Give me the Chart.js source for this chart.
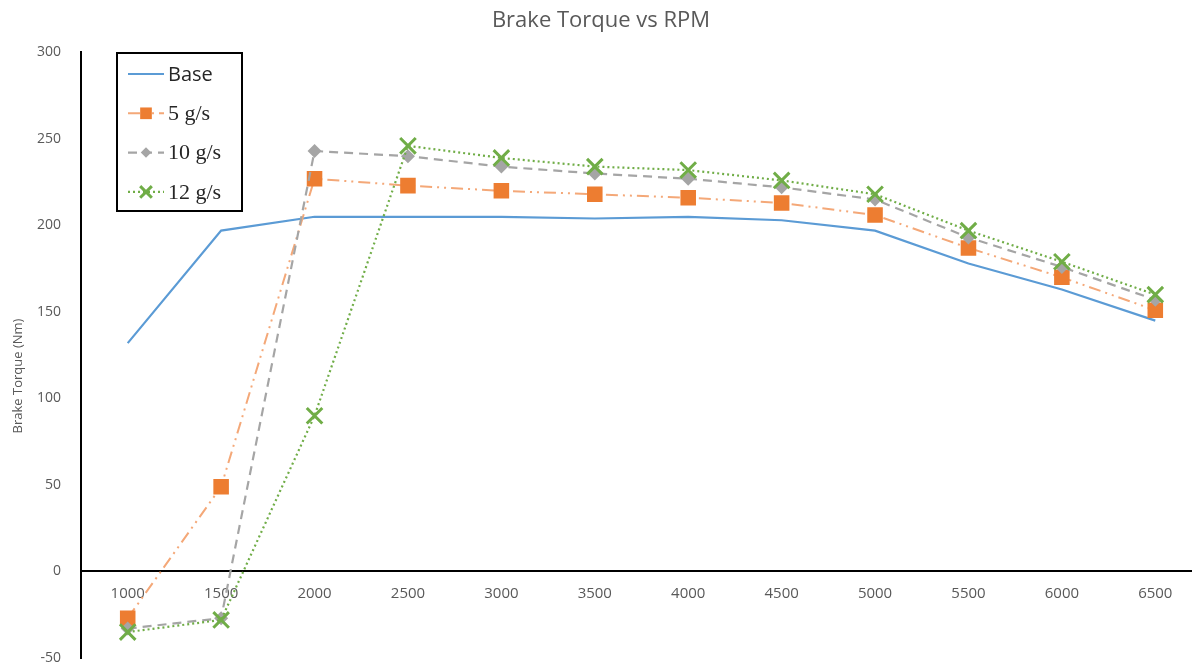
<!DOCTYPE html>
<html lang="en">
<head>
  <meta charset="UTF-8" />
  <title>Brake Torque vs RPM</title>
  <script src="https://cdn.jsdelivr.net/npm/chart.js"></script>
  <style>
    html, body { margin: 0; padding: 0; background: #fff; overflow: hidden; }
    #wrap { width: 1202px; height: 666px; }
  </style>
</head>
<body>
  <div id="wrap"><canvas id="grafico" width="1202" height="666"></canvas></div>
  <script>
    const rpm = ["1000", "1500", "2000", "2500", "3000", "3500", "4000", "4500", "5000", "5500", "6000", "6500"];
    const base = [132, 197, 205, 205, 205, 204, 205, 203, 197, 178, 163, 145];
    const flow5 = [-27, 49, 227, 223, 220, 218, 216, 213, 206, 187, 170, 151];
    const flow10 = [-33, -27, 243, 240, 234, 230, 227, 222, 215, 193, 176, 157];
    const flow12 = [-35, -28, 90, 246, 239, 234, 232, 226, 218, 197, 179, 160];
    const yTicks = [-50, 0, 50, 100, 150, 200, 250, 300];

    const gris = "#595959";
    const fuente = "'Open Sans', sans-serif";

    // legend box inside the plot (top-left, black frame) + rotated y title
    const leyenda = {
      id: "leyenda",
      afterDraw(chart) {
        const ctx = chart.ctx;
        const x0 = 117, y0 = 53, w = 125, h = 158;
        ctx.save();
        ctx.fillStyle = "#fff";
        ctx.fillRect(x0, y0, w, h);
        ctx.strokeStyle = "#000";
        ctx.lineWidth = 2;
        ctx.strokeRect(x0, y0, w, h);
        chart.data.datasets.forEach((ds, i) => {
          const y = 74 + i * 39.3;
          ctx.strokeStyle = ds.borderColor;
          ctx.lineWidth = ds.borderWidth;
          ctx.setLineDash(ds.borderDash || []);
          ctx.beginPath();
          ctx.moveTo(128, y);
          ctx.lineTo(164, y);
          ctx.stroke();
          ctx.setLineDash([]);
          if (ds.pointRadius > 0) {
            ctx.fillStyle = ds.pointBackgroundColor;
            ctx.strokeStyle = ds.pointBorderColor;
            ctx.lineWidth = ds.pointBorderWidth;
            Chart.helpers.drawPoint(ctx, {
              pointStyle: ds.pointStyle,
              radius: ds.pointRadius * 0.75,
              borderWidth: ds.pointBorderWidth
            }, 146, y);
          }
          ctx.fillStyle = "#262626";
          ctx.font = i === 0 ? "20px " + fuente : "22px 'Liberation Serif', serif";
          ctx.textBaseline = "middle";
          ctx.textAlign = "left";
          ctx.fillText(ds.label, 168, y + 1);
        });

        ctx.translate(18, 376);
        ctx.rotate(-Math.PI / 2);
        ctx.fillStyle = gris;
        ctx.font = "13px " + fuente;
        ctx.textAlign = "center";
        ctx.textBaseline = "middle";
        ctx.fillText("Brake Torque (Nm)", 0, 0);
        ctx.restore();
      }
    };

    new Chart(document.getElementById("grafico"), {
      type: "line",
      data: {
        labels: rpm,
        datasets: [
          {
            label: "Base", data: base, order: 4,
            borderColor: "#5B9BD5", borderWidth: 2.2,
            pointRadius: 0, tension: 0
          },
          {
            label: "5 g/s", data: flow5, order: 3,
            borderColor: "#F4A878", borderWidth: 2, borderDash: [12, 5, 2, 5, 2, 5],
            pointStyle: "rect", pointRadius: 11, pointBorderWidth: 0,
            pointBackgroundColor: "#ED7D31", pointBorderColor: "#ED7D31"
          },
          {
            label: "10 g/s", data: flow10, order: 2,
            borderColor: "#A5A5A5", borderWidth: 2.2, borderDash: [9, 6],
            pointStyle: "rectRot", pointRadius: 7, pointBorderWidth: 0,
            pointBackgroundColor: "#A5A5A5", pointBorderColor: "#A5A5A5"
          },
          {
            label: "12 g/s", data: flow12, order: 1,
            borderColor: "#70AD47", borderWidth: 2.2, borderDash: [2, 3],
            pointStyle: "crossRot", pointRadius: 11, pointBorderWidth: 3,
            pointBackgroundColor: "#70AD47", pointBorderColor: "#70AD47"
          }
        ]
      },
      options: {
        responsive: false,
        animation: false,
        layout: { autoPadding: false, padding: 0 },
        plugins: {
          legend: { display: false },
          tooltip: { enabled: false },
          title: {
            display: true,
            text: "Brake Torque vs RPM",
            color: gris,
            font: { family: fuente, size: 22, weight: "normal" },
            padding: { top: 8, bottom: 18 }
          }
        },
        scales: {
          x: {
            type: "category",
            position: { y: 0 },
            offset: true,
            afterFit: (s) => { s.height = 0; },
            grid: { display: false, drawTicks: false },
            border: { display: true, color: "#000", width: 2 },
            ticks: { color: gris, font: { family: fuente, size: 15 }, padding: 13, maxRotation: 0 }
          },
          y: {
            min: -50, max: 300,
            afterBuildTicks: (s) => { s.ticks = yTicks.map(v => ({ value: v })); },
            afterFit: (s) => {
              s.width = 81;
              s.paddingTop = 8;
              s.paddingBottom = 8;
            },
            grid: { display: false, drawTicks: false },
            border: { display: true, color: "#000", width: 2 },
            ticks: { color: gris, font: { family: fuente, size: 14 }, padding: 20 }
          }
        }
      },
      plugins: [leyenda]
    });
  </script>
</body>
</html>
